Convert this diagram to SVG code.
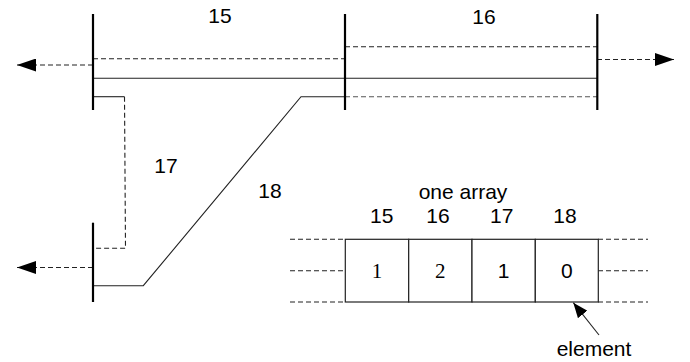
<svg xmlns="http://www.w3.org/2000/svg" width="690" height="362" viewBox="0 0 690 362">
<style>
  .bar{stroke:#000;stroke-width:2.2;fill:none}
  .ln{stroke:#222;stroke-width:1.1;fill:none}
  .ds{stroke:#222;stroke-width:1.1;fill:none;stroke-dasharray:5,3}
  .dsg{stroke:#555;stroke-width:1.1;fill:none;stroke-dasharray:5,3}
  .t{font-family:"Liberation Sans",Arial,sans-serif;font-size:21px;fill:#000;text-anchor:middle}
  .s{font-family:"Liberation Serif","Times New Roman",serif;font-size:21px;fill:#000;text-anchor:middle}
  .cell{fill:#fff;stroke:#222;stroke-width:1.2}
</style>
<defs>
  <marker id="ah" viewBox="0 0 19 13" refX="19" refY="6.5" markerWidth="19" markerHeight="13" markerUnits="userSpaceOnUse" orient="auto">
    <path d="M0,0 L19,6.5 L0,13 Z" fill="#000"/>
  </marker>
  <marker id="ah2" viewBox="0 0 15 12" refX="15" refY="6" markerWidth="15" markerHeight="12" markerUnits="userSpaceOnUse" orient="auto">
    <path d="M0,0 L15,6 L0,12 Z" fill="#000"/>
  </marker>
</defs>
<rect width="690" height="362" fill="#fff"/>
<g id="connectors">
  <line class="ds" x1="93" y1="65" x2="17" y2="65" marker-end="url(#ah)"/>
  <line class="ds" x1="597" y1="59.5" x2="674" y2="59.5" marker-end="url(#ah)"/>
  <line class="ds" x1="93" y1="267.5" x2="17" y2="267.5" marker-end="url(#ah)"/>
  <line class="ds" x1="93" y1="58.7" x2="345" y2="58.7"/>
  <line class="ds" x1="345" y1="46.7" x2="597" y2="46.7"/>
  <line class="ln" x1="93" y1="78.3" x2="597" y2="78.3"/>
  <line class="dsg" x1="345" y1="96.7" x2="597" y2="96.7"/>
  <polyline class="ln" points="93,96.7 124.5,96.7"/>
  <polyline class="ds" points="124.5,96.7 125.5,248.3 93,248.3"/>
  <polyline class="ln" points="345,96.7 301,96.7 143.3,285.7 93,285.7"/>
  <line class="ds" x1="290" y1="239.3" x2="345" y2="239.3"/>
  <line class="ds" x1="290" y1="270.7" x2="345" y2="270.7"/>
  <line class="ds" x1="290" y1="302" x2="345" y2="302"/>
  <line class="ds" x1="598" y1="239.3" x2="648" y2="239.3"/>
  <line class="ds" x1="598" y1="270.7" x2="648" y2="270.7"/>
  <line class="ds" x1="598" y1="302" x2="648" y2="302"/>
  <line class="ln" x1="599" y1="335" x2="573.3" y2="302.7" marker-end="url(#ah2)"/>
</g>
<g id="bars">
  <line class="bar" x1="93" y1="14" x2="93" y2="110"/>
  <line class="bar" x1="345" y1="14" x2="345" y2="110"/>
  <line class="bar" x1="597.3" y1="14" x2="597.3" y2="110"/>
  <line class="bar" x1="93" y1="222.7" x2="93" y2="302"/>
</g>
<g id="labels">
  <text class="t" x="220" y="23">15</text>
  <text class="t" x="484" y="24">16</text>
  <text class="t" x="166" y="173">17</text>
  <text class="t" x="270" y="198">18</text>
  <text class="t" x="463" y="199">one array</text>
  <text class="t" x="381.7" y="223.3">15</text>
  <text class="t" x="438" y="223.3">16</text>
  <text class="t" x="501.7" y="223.3">17</text>
  <text class="t" x="565" y="223.3">18</text>
  <text class="t" x="594" y="355.7">element</text>
</g>
<g id="array">
  <g id="cell1"><rect class="cell" x="345.3" y="239.3" width="63.4" height="62.7"/><text class="s" x="377" y="277.7">1</text></g>
  <g id="cell2"><rect class="cell" x="408.7" y="239.3" width="63.3" height="62.7"/><text class="s" x="440.3" y="277.7">2</text></g>
  <g id="cell3"><rect class="cell" x="472" y="239.3" width="63.3" height="62.7"/><text class="t" x="503.6" y="277.7">1</text></g>
  <g id="cell4"><rect class="cell" x="535.3" y="239.3" width="63" height="62.7"/><text class="t" x="566.8" y="277.7">0</text></g>
</g>
</svg>
